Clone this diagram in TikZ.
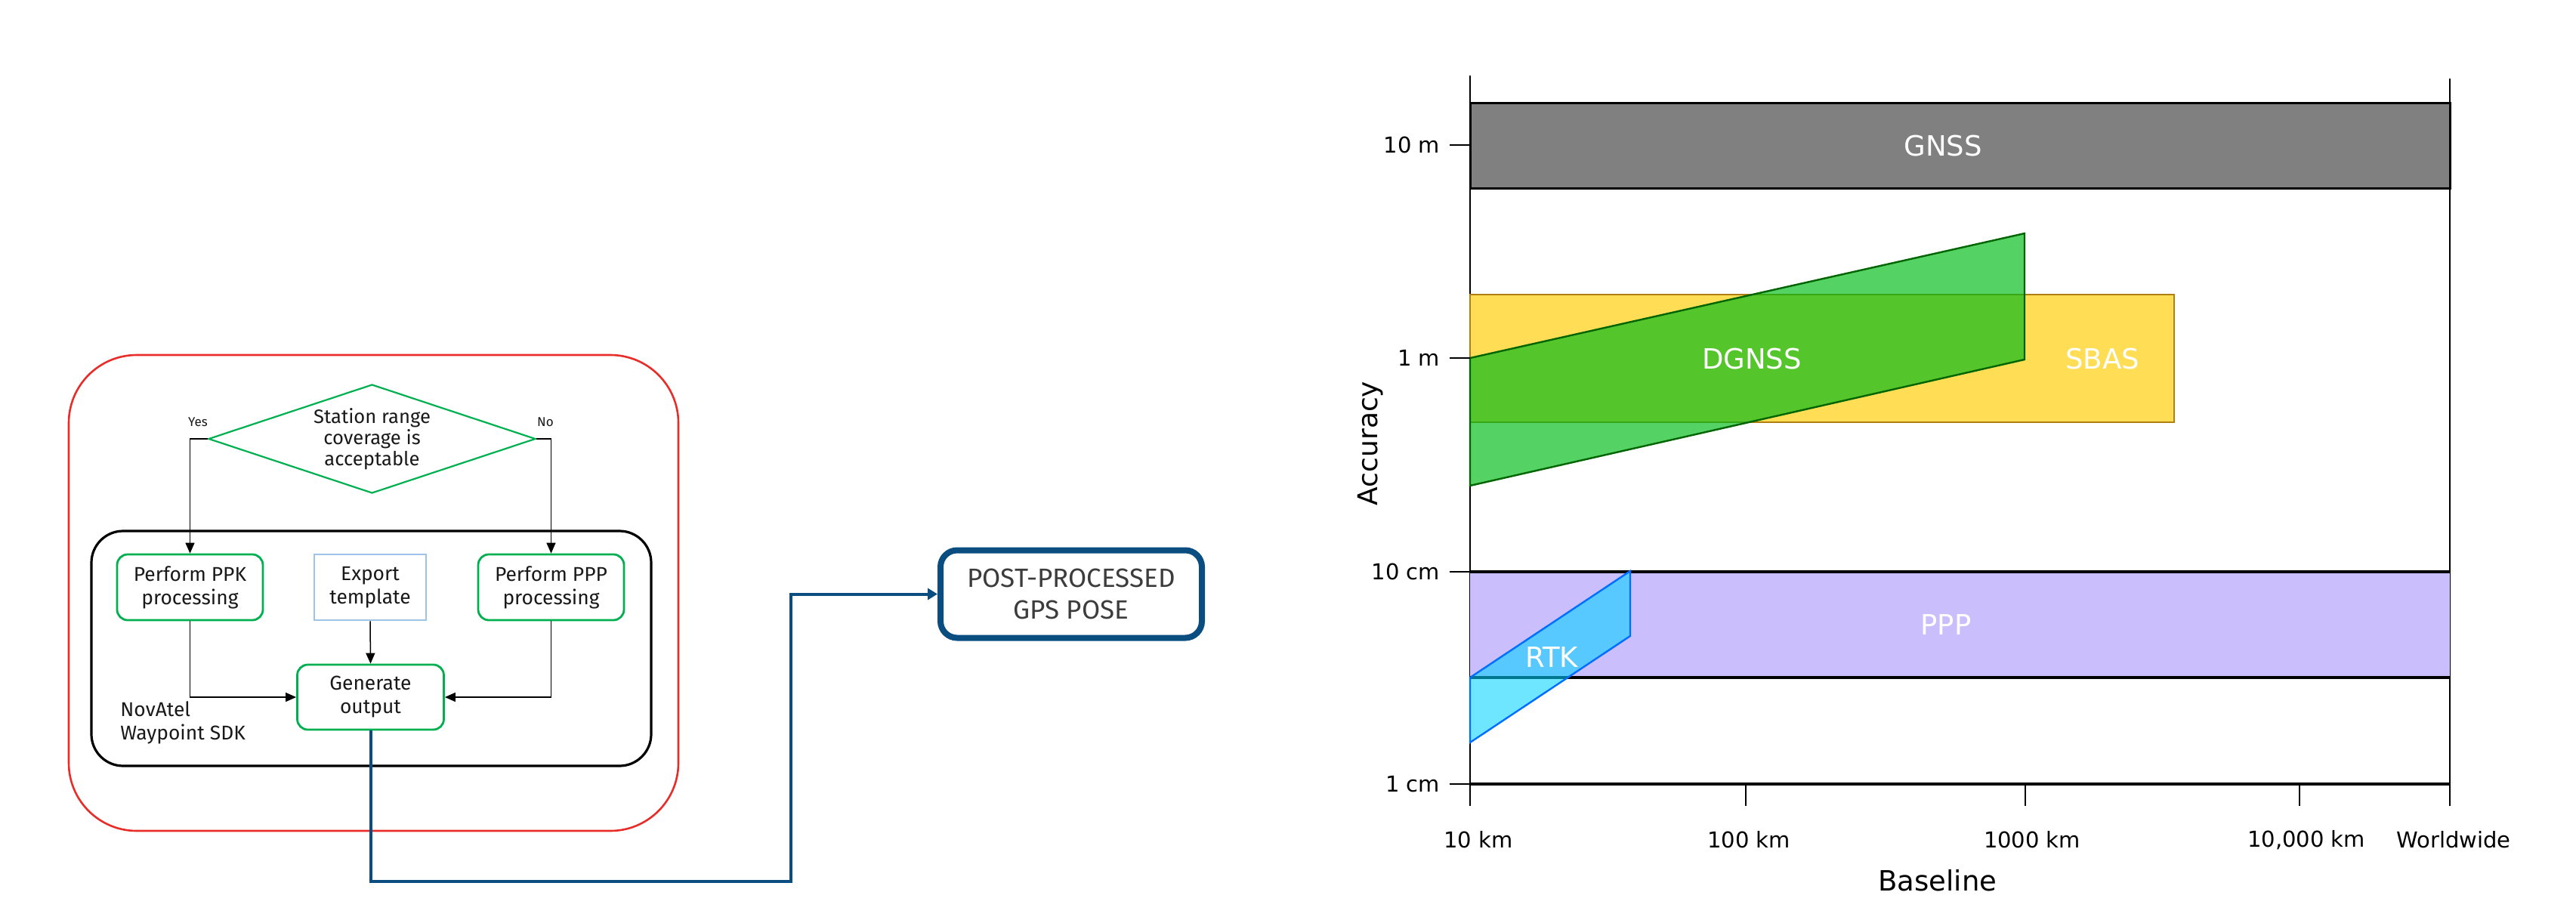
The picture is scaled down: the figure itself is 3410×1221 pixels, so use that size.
\documentclass[tikz,border=0pt]{standalone}
\usepackage{fontspec}
\setmainfont{Fira Sans}
\newfontfamily\chartfont{DejaVu Sans}
\usetikzlibrary{shapes.geometric,arrows.meta}
\definecolor{flowgreen}{RGB}{0,176,80}
\definecolor{framered}{RGB}{232,45,40}
\definecolor{exportblue}{RGB}{157,195,230}
\definecolor{navy}{RGB}{10,77,128}
\definecolor{posttext}{RGB}{60,60,60}
\definecolor{flowtext}{RGB}{25,25,25}
\definecolor{gnssgray}{RGB}{128,128,128}
\definecolor{sbasfill}{RGB}{255,221,85}
\definecolor{sbasline}{RGB}{176,127,16}
\definecolor{dgnssfill}{RGB}{0,188,24}
\definecolor{dgnssline}{RGB}{0,100,0}
\definecolor{pppfill}{RGB}{203,190,253}
\definecolor{rtkfill}{RGB}{0,211,255}
\definecolor{rtkline}{RGB}{0,110,255}
\begin{document}
\begin{tikzpicture}[x=0.5pt,y=-0.5pt,
  flowfont/.style={font=\fontsize{13.2}{15.5}\selectfont, text=flowtext},
  procbox/.style={flowfont, draw=flowgreen, line width=1.4pt, rounded corners=7pt,
    minimum width=96.5pt, minimum height=43.5pt, align=center, inner sep=2pt},
  conn/.style={draw=black, line width=0.75pt, -{Triangle[length=7pt,width=6pt]}},
  chartlbl/.style={font=\chartfont\fontsize{14.5}{17}\selectfont, text=black},
  barlbl/.style={font=\chartfont\fontsize{18.5}{22}\selectfont, text=white},
  axisline/.style={draw=black, line width=1.2pt}
]
\useasboundingbox (0,0) rectangle (3410,1221);

% ---------- left flowchart ----------
\node[draw=framered, line width=1.3pt, rounded corners=45pt, minimum width=403.5pt,
  minimum height=315pt, inner sep=0pt] (outer) at (494.5,785) {};
\node[draw=black, line width=1.6pt, rounded corners=21pt, minimum width=370.5pt,
  minimum height=155.5pt, inner sep=0pt] (sdkframe) at (491.5,858.5) {};

\node[diamond, draw=flowgreen, line width=1.1pt, minimum width=216.5pt,
  minimum height=72pt, inner sep=0pt, aspect=3, align=center,
  font=\fontsize{12.8}{14}\selectfont, text=flowtext] (dec) at (492.5,581)
  {Station range\\coverage is\\acceptable};
\node[font=\fontsize{8.5}{10}\selectfont, text=flowtext] (yes) at (262,559) {Yes};
\node[font=\fontsize{8.5}{10}\selectfont, text=flowtext] (no) at (722,559) {No};

\node[procbox] (ppk) at (251.5,777.5) {Perform PPK\\processing};
\node[procbox, draw=exportblue, rounded corners=0pt, minimum width=74pt] (exp) at (490,777.5) {Export\\template};
\node[procbox] (ppp) at (729.5,777.5) {Perform PPP\\processing};
\node[procbox, minimum width=97pt, minimum height=43pt] (gen) at (490.5,923) {Generate\\output};
\node[flowfont, anchor=west, align=left, inner sep=0pt] (sdk) at (159,957) {NovAtel\\Waypoint SDK};

\draw[conn] (dec.west) -| (ppk.north);
\draw[conn] (dec.east) -| (ppp.north);
\draw[conn] (ppk.south) |- (gen.west);
\draw[conn] (ppp.south) |- (gen.east);
\draw[conn] (exp.south) -- (gen.north);

% ---------- output ----------
\node[draw=navy, line width=4pt, rounded corners=11pt, minimum width=173pt,
  minimum height=58pt, align=center, font=\fontsize{17.5}{21}\selectfont,
  text=posttext] (post) at (1418,786.5) {POST-PROCESSED\\GPS POSE};
\coordinate (bend) at (1047,1167);
\draw[draw=navy, line width=2pt, -{Triangle[length=6.5pt,width=7.5pt]}]
  (gen.south) |- (bend) |- (post.west);

% ---------- right chart ----------
\draw[axisline] (1946,100) -- (1946,1067);
\draw[axisline] (3243,104) -- (3243,1067);

\draw[draw=black, line width=1.5pt, fill=gnssgray] (1946,136) rectangle (3243,249);
\draw[draw=sbasline, line width=1pt, fill=sbasfill] (1946,390) rectangle (2878,559);
\draw[draw=dgnssline, line width=1.2pt, fill=dgnssfill, fill opacity=0.67]
  (1946,474) -- (2680,309) -- (2680,476) -- (1946,643) -- cycle;

\fill[pppfill] (1946,757) rectangle (3243,897);
\draw[draw=black, line width=1.8pt] (1946,757) -- (3243,757);
\draw[draw=black, line width=1.8pt] (1946,897) -- (3243,897);
\draw[draw=rtkline, line width=1.2pt, fill=rtkfill, fill opacity=0.57]
  (1946,983) -- (1946,897) -- (2158,756) -- (2158,842) -- cycle;

\draw[draw=black, line width=2pt] (1946,1038) -- (3243,1038);
\foreach \xx in {1946,2311,2681,3044,3243}{
  \draw[axisline] (\xx,1038) -- (\xx,1067);
}
\foreach \yy in {192,474,757,1038}{
  \draw[axisline] (1919,\yy) -- (1946,\yy);
}

\node[chartlbl, anchor=east] (l10m) at (1913,192) {10 m};
\node[chartlbl, anchor=east] (l1m) at (1913,474) {1 m};
\node[chartlbl, anchor=east] (l10cm) at (1913,757) {10 cm};
\node[chartlbl, anchor=east] (l1cm) at (1913,1038) {1 cm};

\node[chartlbl] (k10) at (1957,1112) {10 km};
\node[chartlbl] (k100) at (2315,1112) {100 km};
\node[chartlbl] (k1000) at (2690,1112) {1000 km};
\node[chartlbl] (k10000) at (3053,1112) {10,000 km};
\node[chartlbl] (kworld) at (3248,1112) {Worldwide};

\node[font=\chartfont\fontsize{18.5}{22}\selectfont] (xtitle) at (2565,1166) {Baseline};
\node[font=\chartfont\fontsize{18}{22}\selectfont, rotate=90] (ytitle) at (1814,587) {Accuracy};

\node[barlbl] (tgnss) at (2572,193) {GNSS};
\node[barlbl] (tdgnss) at (2319,475) {DGNSS};
\node[barlbl] (tsbas) at (2783,475) {SBAS};
\node[barlbl] (tppp) at (2576,827) {PPP};
\node[barlbl] (trtk) at (2054,870) {RTK};
\end{tikzpicture}
\end{document}
